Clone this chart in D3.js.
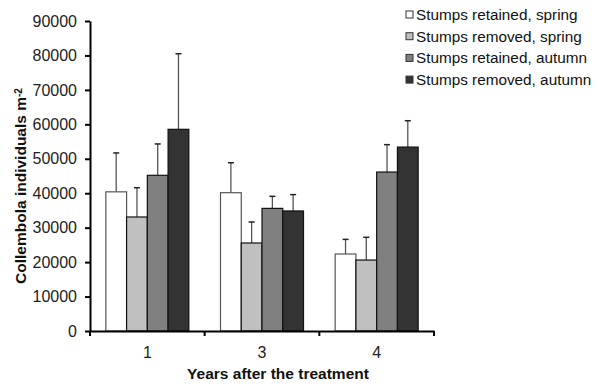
<!DOCTYPE html>
<html>
<head>
<meta charset="utf-8">
<script src="https://cdn.jsdelivr.net/npm/d3@7"></script>
<style>
  body { margin: 0; background: #fff; }
  text { font-family: "Liberation Sans", Arial, sans-serif; }
</style>
</head>
<body>
<div id="chart"></div>
<script>
const years = ["1", "3", "4"];
const seriesNames = [
  "Stumps retained, spring",
  "Stumps removed, spring",
  "Stumps retained, autumn",
  "Stumps removed, autumn"
];
const seriesColors = ["#ffffff", "#c0c0c0", "#808080", "#333333"];
// mean per year, one array per series
const retainedSpring = [40400, 40150, 22350];
const removedSpring  = [33100, 25550, 20600];
const retainedAutumn = [45200, 35600, 46150];
const removedAutumn  = [58550, 34850, 53400];
// top of error bar (mean + SE)
const retainedSpringErr = [51700, 48850, 26600];
const removedSpringErr  = [41600, 31650, 27200];
const retainedAutumnErr = [54300, 39100, 54100];
const removedAutumnErr  = [80500, 39600, 61050];
const yTicks = [0, 10000, 20000, 30000, 40000, 50000, 60000, 70000, 80000, 90000];

const means = [retainedSpring, removedSpring, retainedAutumn, removedAutumn];
const errs = [retainedSpringErr, removedSpringErr, retainedAutumnErr, removedAutumnErr];

const width = 599, height = 388;
const margin = {left: 90, top: 21, right: 165, bottom: 57};

const svg = d3.select("#chart").append("svg")
  .attr("width", width)
  .attr("height", height);

const x = d3.scaleBand()
  .domain(years)
  .range([margin.left, width - margin.right])
  .paddingInner(0)
  .paddingOuter(0);

const y = d3.scaleLinear()
  .domain([0, 90000])
  .range([height - margin.bottom, margin.top]);

const groupW = 83;
const xs = d3.scaleBand()
  .domain(d3.range(4))
  .range([0, groupW]);

let data = [];
years.forEach((yr, i) => {
  means.forEach((s, j) => {
    data.push({year: yr, k: j, value: s[i], err: errs[j][i]});
  });
});

// error bars (behind bars)
const errG = svg.append("g");
data.forEach(d => {
  const cx = x(d.year) + (x.bandwidth() - groupW) / 2 + xs(d.k) + xs.bandwidth() / 2;
  errG.append("line")
    .attr("x1", cx).attr("x2", cx)
    .attr("y1", y(d.value)).attr("y2", y(d.err))
    .attr("stroke", "#555").attr("stroke-width", 1.3);
  errG.append("line")
    .attr("x1", cx - 3).attr("x2", cx + 3)
    .attr("y1", y(d.err)).attr("y2", y(d.err))
    .attr("stroke", "#222").attr("stroke-width", 1.5);
});

svg.append("g").selectAll("rect")
  .data(data)
  .enter()
  .append("rect")
  .attr("x", d => x(d.year) + (x.bandwidth() - groupW) / 2 + xs(d.k))
  .attr("y", d => y(d.value))
  .attr("width", xs.bandwidth())
  .attr("height", d => y(0) - y(d.value))
  .attr("fill", d => seriesColors[d.k])
  .attr("stroke", d => d.k == 0 ? "#555" : "#111")
  .attr("stroke-width", 1.2);

// y axis
const yAxis = svg.append("g")
  .attr("transform", `translate(${margin.left},0)`)
  .call(d3.axisLeft(y).tickValues(yTicks).tickFormat(d3.format("d")).tickSize(5).tickSizeOuter(0));
yAxis.select(".domain").attr("stroke", "#000").attr("stroke-width", 2);
yAxis.selectAll(".tick line").attr("stroke", "#000").attr("stroke-width", 2);
yAxis.selectAll("text")
  .attr("x", -13)
  .style("font-size", "16px")
  .attr("fill", "#222");

// x axis
const xAxis = svg.append("g")
  .attr("transform", `translate(0,${y(0)})`)
  .call(d3.axisBottom(x).tickSize(0).tickSizeOuter(0));
xAxis.select(".domain").attr("stroke", "#000").attr("stroke-width", 2);
xAxis.selectAll("text")
  .attr("dy", "1.5em")
  .style("font-size", "16px")
  .attr("fill", "#222");
// boundary ticks between categories
const bounds = [margin.left, ...years.map(yr => x(yr) + x.bandwidth())];
xAxis.selectAll(".bnd")
  .data(bounds)
  .enter()
  .append("line")
  .attr("x1", d => d).attr("x2", d => d)
  .attr("y1", 0).attr("y2", 5)
  .attr("stroke", "#000").attr("stroke-width", 2);

// axis titles
const yt = svg.append("text")
  .attr("transform", `translate(26,${(margin.top + y(0)) / 2 + 10}) rotate(-90)`)
  .attr("text-anchor", "middle")
  .style("font-size", "15.5px")
  .style("font-weight", "bold")
  .attr("fill", "#111");
yt.append("tspan").text("Collembola individuals m");
yt.append("tspan").attr("dy", "-0.45em").style("font-size", "10px").text("-2");

svg.append("text")
  .attr("x", 278)
  .attr("y", 379)
  .attr("text-anchor", "middle")
  .style("font-size", "15.5px")
  .style("font-weight", "bold")
  .attr("fill", "#111")
  .text("Years after the treatment");

// legend
const leg = svg.append("g");
seriesNames.forEach((name, i) => {
  const ly = 14.5 + i * 21.7;
  leg.append("rect")
    .attr("x", 406).attr("y", ly - 3.5)
    .attr("width", 7).attr("height", 7)
    .attr("fill", seriesColors[i])
    .attr("stroke", "#333").attr("stroke-width", 1);
  leg.append("text")
    .attr("x", 416).attr("y", ly)
    .attr("dy", "0.35em")
    .style("font-size", "15.3px")
    .attr("fill", "#111")
    .text(name);
});
</script>
</body>
</html>
